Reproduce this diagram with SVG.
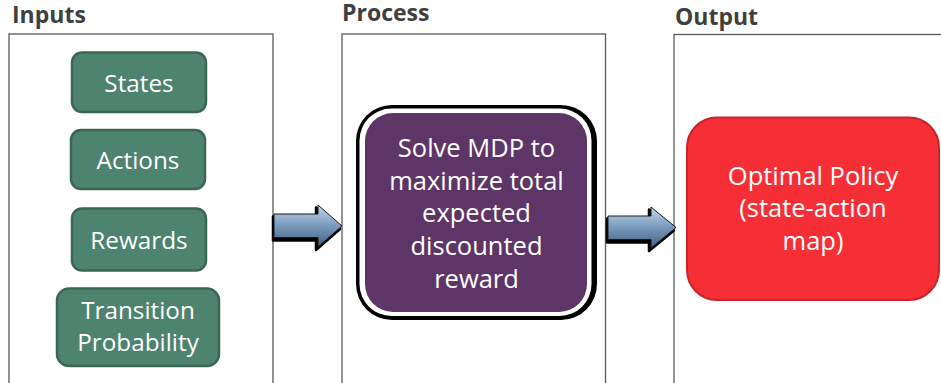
<svg xmlns="http://www.w3.org/2000/svg" width="941" height="383" viewBox="0 0 941 383">
<defs>
<linearGradient id="arrowGrad" x1="0" y1="0" x2="0" y2="1">
<stop offset="0" stop-color="#c3d6ea"/>
<stop offset="0.45" stop-color="#7f9fc1"/>
<stop offset="1" stop-color="#3e5f84"/>
</linearGradient>
<style>
.title{font-family:"Open Sans","DejaVu Sans",sans-serif;font-weight:bold;font-size:23px;fill:#3f3f3f}
.panel{fill:#ffffff;stroke:#5a5a5a;stroke-width:1.3}
.green{fill:#4e836f;stroke:#3b6655;stroke-width:2.5}
.lbl{font-family:"Open Sans","DejaVu Sans",sans-serif;fill:#ffffff;text-anchor:middle}
.small{font-size:24.3px}
.big{font-size:25.5px}
.arrowShadow{fill:#000000;stroke:#000000;stroke-width:2.5;stroke-linejoin:round}
.arrowBody{fill:url(#arrowGrad);stroke:#1a1a1a;stroke-width:1;stroke-linejoin:round}
</style>
</defs>
<rect width="941" height="383" fill="#ffffff"/>

<g id="panel-inputs">
<rect class="panel" x="9" y="34" width="264" height="360"/>
<text class="title" x="12" y="23">Inputs</text>
</g>
<g id="panel-process">
<rect class="panel" x="342" y="34" width="263.5" height="360"/>
<text class="title" x="342" y="20.5">Process</text>
</g>
<g id="panel-output">
<rect class="panel" x="674" y="34.5" width="280" height="360"/>
<text class="title" x="675" y="25">Output</text>
</g>

<g id="states">
<rect class="green" x="72" y="52.5" width="134" height="59.5" rx="10"/>
<text class="lbl small" x="139" y="92">States</text>
</g>
<g id="actions">
<rect class="green" x="71" y="130" width="134" height="59" rx="10"/>
<text class="lbl small" x="138" y="169">Actions</text>
</g>
<g id="rewards">
<rect class="green" x="72" y="208.5" width="134" height="62" rx="10"/>
<text class="lbl small" x="139" y="249">Rewards</text>
</g>
<g id="transition-probability">
<rect class="green" x="57" y="288.5" width="162" height="77.5" rx="12"/>
<text class="lbl small" x="138" y="319">Transition</text>
<text class="lbl small" x="138" y="351">Probability</text>
</g>

<g id="solve-mdp">
<rect x="356" y="105" width="241" height="215" rx="36" fill="#000000"/>
<rect x="359.5" y="108.5" width="232" height="207.5" rx="32" fill="#ffffff"/>
<rect x="365" y="113" width="222" height="199" rx="28" fill="#5e3567"/>
<text class="lbl big" x="476.5" y="157">Solve MDP to</text>
<text class="lbl big" x="476.5" y="190">maximize total</text>
<text class="lbl big" x="476.5" y="222">expected</text>
<text class="lbl big" x="476.5" y="255">discounted</text>
<text class="lbl big" x="476.5" y="288">reward</text>
</g>

<g id="optimal-policy">
<rect x="687" y="117.5" width="252" height="182.5" rx="30" fill="#f62e36" stroke="#c4262c" stroke-width="2"/>
<text class="lbl big" x="813" y="185">Optimal Policy</text>
<text class="lbl big" x="813" y="217">(state-action</text>
<text class="lbl big" x="813" y="250">map)</text>
</g>

<g id="connectors">
<g id="arrow-inputs-process">
<path class="arrowShadow" d="M273,216.5 L316,216.5 L316,207.5 L340,229 L316,250 L316,240.5 L273,240.5 Z"/>
<path class="arrowBody" d="M274,214 L318,214 L318,205 L342,226 L318,247 L318,237.5 L274,237.5 Z"/>
</g>
<g id="arrow-process-output">
<path class="arrowShadow" d="M607,218.5 L649,218.5 L649,209.5 L674,230.5 L649,251 L649,242.5 L607,242.5 Z"/>
<path class="arrowBody" d="M608,216 L651,216 L651,207 L676,227.5 L651,248 L651,239.5 L608,239.5 Z"/>
</g>
</g>
</svg>
